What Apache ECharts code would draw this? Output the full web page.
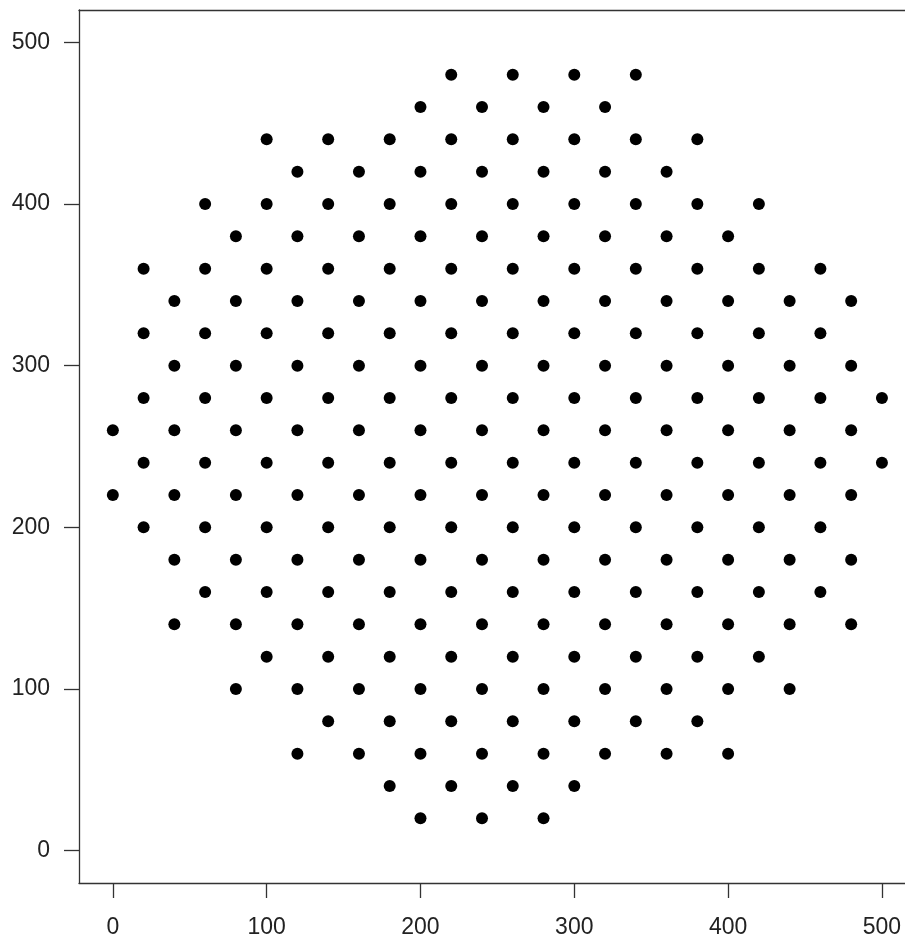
<html>

<head>
    <meta charset="utf-8" />
    <style>
        html, body { margin: 0; padding: 0; background: #fff; }
        #chart { width: 905px; height: 941px; }
    </style>
</head>

<body>
    <div id="chart"></div>
    <script src="https://cdn.jsdelivr.net/npm/echarts@6/dist/echarts.min.js"></script>
    <script>
        // row heights (y) and the x positions of the dots in each row
        var rowY = [480, 460, 440, 420, 400, 380, 360, 340, 320, 300, 280, 260,
                    240, 220, 200, 180, 160, 140, 120, 100, 80, 60, 40, 20];
        var rowX = [
            [220, 260, 300, 340],
            [200, 240, 280, 320],
            [100, 140, 180, 220, 260, 300, 340, 380],
            [120, 160, 200, 240, 280, 320, 360],
            [60, 100, 140, 180, 220, 260, 300, 340, 380, 420],
            [80, 120, 160, 200, 240, 280, 320, 360, 400],
            [20, 60, 100, 140, 180, 220, 260, 300, 340, 380, 420, 460],
            [40, 80, 120, 160, 200, 240, 280, 320, 360, 400, 440, 480],
            [20, 60, 100, 140, 180, 220, 260, 300, 340, 380, 420, 460],
            [40, 80, 120, 160, 200, 240, 280, 320, 360, 400, 440, 480],
            [20, 60, 100, 140, 180, 220, 260, 300, 340, 380, 420, 460, 500],
            [0, 40, 80, 120, 160, 200, 240, 280, 320, 360, 400, 440, 480],
            [20, 60, 100, 140, 180, 220, 260, 300, 340, 380, 420, 460, 500],
            [0, 40, 80, 120, 160, 200, 240, 280, 320, 360, 400, 440, 480],
            [20, 60, 100, 140, 180, 220, 260, 300, 340, 380, 420, 460],
            [40, 80, 120, 160, 200, 240, 280, 320, 360, 400, 440, 480],
            [60, 100, 140, 180, 220, 260, 300, 340, 380, 420, 460],
            [40, 80, 120, 160, 200, 240, 280, 320, 360, 400, 440, 480],
            [100, 140, 180, 220, 260, 300, 340, 380, 420],
            [80, 120, 160, 200, 240, 280, 320, 360, 400, 440],
            [140, 180, 220, 260, 300, 340, 380],
            [120, 160, 200, 240, 280, 320, 360, 400],
            [180, 220, 260, 300],
            [200, 240, 280]
        ];
        var xTicks = [0, 100, 200, 300, 400, 500];
        var yTicks = [0, 100, 200, 300, 400, 500];

        var points = [];
        for (var i = 0; i < rowY.length; i++) {
            for (var j = 0; j < rowX[i].length; j++) {
                points.push([rowX[i][j], rowY[i]]);
            }
        }

        var chart = echarts.init(document.getElementById('chart'));
        var labelStyle = {
            color: '#222',
            fontFamily: 'Liberation Sans, Arial, sans-serif',
            fontSize: 23
        };
        var frameLine = { show: true, onZero: false, lineStyle: { color: '#333', width: 1.3 } };
        option = {
            animation: false,
            backgroundColor: '#fff',
            grid: {
                left: 79,
                top: 10,
                width: 826,
                height: 873,
                show: false
            },
            xAxis: [
                {
                    type: 'value',
                    min: -22,
                    max: 515,
                    splitLine: { show: false },
                    axisLine: frameLine,
                    axisTick: { show: true, length: 15, customValues: xTicks, lineStyle: { color: '#333', width: 1.3 } },
                    axisLabel: Object.assign({ margin: 33, customValues: xTicks }, labelStyle)
                },
                {
                    // top edge of the box
                    type: 'value',
                    position: 'top',
                    min: -22,
                    max: 515,
                    splitLine: { show: false },
                    axisLine: frameLine,
                    axisTick: { show: false },
                    axisLabel: { show: false }
                }
            ],
            yAxis: {
                type: 'value',
                min: -20,
                max: 520,
                splitLine: { show: false },
                axisLine: frameLine,
                axisTick: { show: true, length: 15, customValues: yTicks, lineStyle: { color: '#333', width: 1.3 } },
                axisLabel: Object.assign({ margin: 29, customValues: yTicks }, labelStyle)
            },
            series: [
                {
                    type: 'scatter',
                    data: points,
                    symbol: 'circle',
                    symbolSize: 12,
                    itemStyle: { color: '#000', opacity: 1 }
                }
            ]
        };
        chart.setOption(option);
    </script>
</body>

</html>
